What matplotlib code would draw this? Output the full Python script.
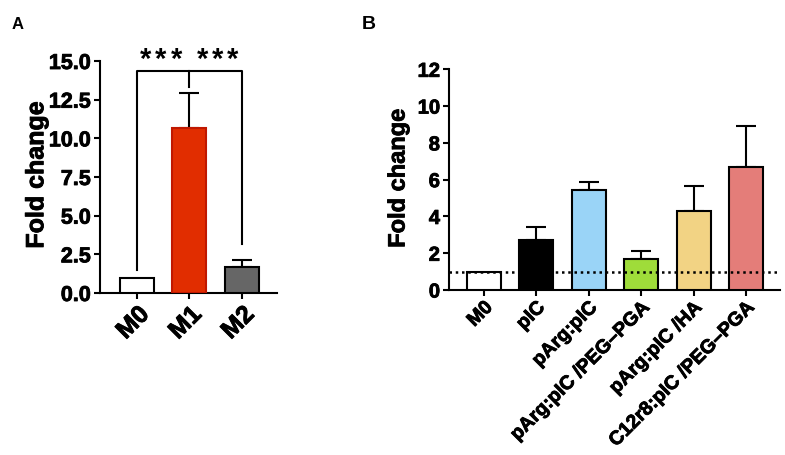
import matplotlib
matplotlib.use("Agg")
import matplotlib.pyplot as plt
import matplotlib.patheffects as pe
import numpy as np

plt.rcParams['font.family'] = ['Liberation Sans', 'DejaVu Sans']
plt.rcParams['font.weight'] = 'bold'

# panel A data
a_labels = ['M0', 'M1', 'M2']
a_means = [1.0, 10.67, 1.68]
a_errs = [0.0, 2.26, 0.48]
a_colors = ['white', '#e12d00', '#666666']
a_edges = ['black', '#c01800', 'black']

# panel B data
b_labels = ['M0', 'pIC', 'pArg:pIC', 'pArg:pIC /PEG\u2013PGA', 'pArg:pIC /HA',
            'C12r8:pIC /PEG\u2013PGA']
b_means = [1.0, 2.72, 5.43, 1.70, 4.31, 6.68]
b_errs = [0.0, 0.68, 0.42, 0.43, 1.35, 2.25]
b_colors = ['white', 'black', '#9ad4f7', '#9fdc3a', '#f2d384', '#e47d79']

fig = plt.figure(figsize=(7.85, 4.55), dpi=100)
heavy = [pe.withStroke(linewidth=0.6, foreground='black')]


def style_axes(ax):
    for s in ['top', 'right']:
        ax.spines[s].set_visible(False)
    for s in ['left', 'bottom']:
        ax.spines[s].set_linewidth(1.5)
    ax.tick_params(width=1.5, length=4.5, pad=2)
    for t in ax.get_xticklabels() + ax.get_yticklabels() + [ax.yaxis.label]:
        t.set_path_effects(heavy)


# ---- panel A
axA = fig.add_axes([100/785, 1-293/455, 177/785, 232/455])
x = np.arange(len(a_labels))
axA.bar(x, a_means, width=0.65, color=a_colors, edgecolor=a_edges, linewidth=1.5,
        zorder=3)
axA.errorbar(x[1:], a_means[1:], yerr=[np.zeros(2), a_errs[1:]], fmt='none',
             ecolor='black', elinewidth=1.5, capsize=7.5, capthick=1.5, zorder=2)
axA.set_xlim(-0.7, 2.67)
axA.set_ylim(0, 15)
axA.set_yticks([0, 2.5, 5, 7.5, 10, 12.5, 15])
axA.set_yticklabels(['0.0', '2.5', '5.0', '7.5', '10.0', '12.5', '15.0'], fontsize=15.5)
axA.set_xticks(x)
axA.set_xticklabels(a_labels, fontsize=18, rotation=45, ha='right',
                    rotation_mode='anchor')
axA.set_ylabel('Fold change', fontsize=18, fontweight='bold')
axA.yaxis.set_label_coords(-0.36, 0.509)
axA.yaxis.label.set_va('center')
style_axes(axA)

# significance bracket
br_top = 14.35
axA.plot([0, 0, 2, 2], [1.5, br_top, br_top, 3.2], color='black', lw=1.5,
         clip_on=False)
axA.plot([1, 1], [br_top, 13.3], color='black', lw=1.5, clip_on=False)
for cx in [0.46, 1.54]:
    for dx in [-0.29, 0, 0.29]:
        axA.text(cx + dx, 15.05, '*', ha='center', va='center', fontsize=21,
                 clip_on=False)

# ---- panel B
axB = fig.add_axes([449/785, 1-290/455, 331/785, 220.7/455])
xb = np.arange(len(b_labels))
axB.bar(xb, b_means, width=0.65, color=b_colors, edgecolor='black', linewidth=1.5,
        zorder=3)
axB.errorbar(xb[1:], b_means[1:], yerr=[np.zeros(5), b_errs[1:]], fmt='none',
             ecolor='black', elinewidth=1.5, capsize=7.5, capthick=1.5, zorder=2)
axB.axhline(1.0, color='black', lw=1.8, ls=(0, (1, 1.5)), zorder=4)
axB.set_xlim(-0.67, 5.65)
axB.set_ylim(0, 12)
axB.set_yticks([0, 2, 4, 6, 8, 10, 12])
axB.tick_params(axis='y', labelsize=14.5)
axB.set_xticks(xb)
axB.set_xticklabels(b_labels, fontsize=14, rotation=45, ha='right',
                    rotation_mode='anchor')
axB.set_ylabel('Fold change', fontsize=17, fontweight='bold')
axB.yaxis.set_label_coords(-0.154, 0.507)
axB.yaxis.label.set_va('center')
style_axes(axB)

fig.text(12/785, 1-29/455, 'A', fontsize=12, fontweight='bold')
fig.text(362/785, 1-29/455, 'B', fontsize=14, fontweight='bold')

fig.savefig('out.png', dpi=100)
